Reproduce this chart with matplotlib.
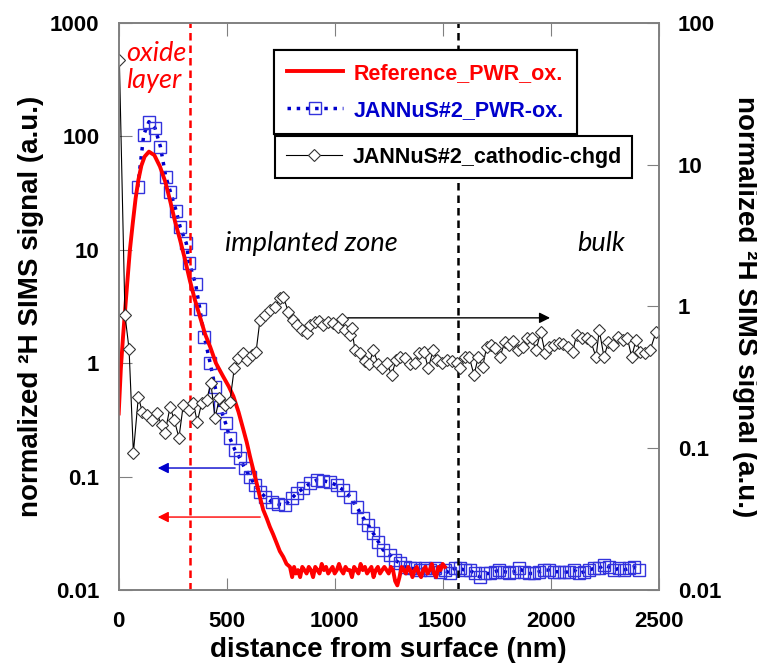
import matplotlib.pyplot as plt

plt.rcParams['font.family'] = ['Liberation Sans', 'DejaVu Sans']

# Reference_PWR_ox. (left axis)
ref_x = [0, 10, 20, 30, 40, 52, 65, 78, 91, 105, 120, 140, 165, 191, 215, 237, 260, 284, 305, 330,
         353, 376, 400, 423, 450, 484, 510, 531, 555, 577, 593, 608, 623, 639, 654, 669, 685, 700,
         715, 731, 746, 762, 777, 793,
         803, 812, 820, 830, 840, 850, 860, 870, 880, 890, 900, 910, 920, 930, 940, 950, 960, 970,
         980, 990, 1000, 1010, 1020, 1030, 1040, 1050, 1060, 1070, 1080, 1090, 1100, 1110, 1120,
         1130, 1140, 1150, 1160, 1170, 1180, 1190, 1200, 1210, 1220, 1230, 1240, 1250, 1260, 1270,
         1280, 1290, 1300, 1310, 1320, 1330, 1340, 1350, 1360, 1370, 1380, 1390, 1400, 1410, 1420,
         1430, 1440, 1450, 1460, 1470, 1480, 1490, 1500, 1510]
ref_y = [0.36, 0.9, 1.7, 3.0, 5.2, 10, 17, 28, 41, 55, 66, 73, 68, 54, 40, 27.5, 18, 12.2, 8.5, 5.3,
         3.6, 2.57, 1.8, 1.4, 1.0, 0.76, 0.62, 0.51, 0.37, 0.26, 0.2, 0.15, 0.115, 0.087, 0.066,
         0.051, 0.043, 0.036, 0.031, 0.026, 0.022, 0.0196, 0.017, 0.016,
         0.013, 0.016, 0.014, 0.015, 0.013, 0.016, 0.015, 0.014, 0.016, 0.015, 0.013, 0.016, 0.015,
         0.014, 0.017, 0.015, 0.016, 0.014, 0.015, 0.016, 0.014, 0.015, 0.017, 0.015, 0.014, 0.016,
         0.015, 0.015, 0.013, 0.016, 0.015, 0.014, 0.017, 0.015, 0.016, 0.014, 0.015, 0.016, 0.013,
         0.015, 0.016, 0.014, 0.015, 0.016, 0.015, 0.014, 0.016, 0.015, 0.012, 0.011, 0.013, 0.016,
         0.015, 0.014, 0.016, 0.015, 0.013, 0.015, 0.016, 0.014, 0.013, 0.015, 0.016, 0.014, 0.015,
         0.017, 0.014, 0.013, 0.016, 0.015, 0.017, 0.016]

# JANNuS#2_PWR-ox. (left axis)
pwr_x = [88, 116, 140, 168, 193, 218, 239, 267, 285, 313, 326, 356, 376, 397, 423, 446, 469, 495,
         515, 538, 561, 584, 608, 631, 654, 677, 708, 739, 770, 801, 824, 855, 886, 917, 947, 978,
         1009, 1040, 1071, 1102, 1133, 1156, 1179, 1202, 1225, 1256, 1279, 1302, 1326,
         1349, 1372, 1395, 1418, 1441, 1464, 1487, 1510, 1533, 1556, 1579, 1602, 1625, 1648, 1671,
         1694, 1717, 1740, 1763, 1786, 1809, 1832, 1855, 1878, 1901, 1924, 1947, 1970, 1993, 2016,
         2039, 2062, 2085, 2108, 2131, 2154, 2177, 2200, 2223, 2246, 2269, 2292, 2315, 2338, 2361,
         2384, 2407]
pwr_y = [35.6, 103, 134, 118, 81, 44, 32.5, 21.7, 15.7, 11.4, 7.7, 4.97, 2.99, 1.69, 1.01, 0.62,
         0.41, 0.295, 0.218, 0.172, 0.145, 0.118, 0.0998, 0.084, 0.0736, 0.0665, 0.060, 0.0573,
         0.0562, 0.0644, 0.0713, 0.079, 0.087, 0.093, 0.092, 0.089, 0.084, 0.076, 0.0665, 0.054,
         0.043, 0.0374, 0.0316, 0.0267, 0.0225, 0.0204, 0.0184, 0.0172, 0.016,
         0.0155, 0.0155, 0.015, 0.0155, 0.015, 0.0155, 0.0145, 0.015, 0.014, 0.0155, 0.0155, 0.015,
         0.015, 0.014, 0.0131, 0.014, 0.014, 0.0145, 0.015, 0.0145, 0.0142, 0.0145, 0.0155, 0.0145,
         0.014, 0.014, 0.0145, 0.015, 0.015, 0.0145, 0.0145, 0.0143, 0.0145, 0.015, 0.014, 0.0145,
         0.015, 0.0155, 0.0155, 0.0166, 0.016, 0.015, 0.0155, 0.015, 0.0155, 0.016, 0.015]

# JANNuS#2_cathodic-chgd (right axis)
cat_x = [3, 29, 48, 68, 91, 109, 130, 153, 176, 199, 214, 238, 257, 279, 299, 325, 345, 364, 384,
         407, 427, 446, 466, 492, 515, 535, 554, 574, 595, 616, 636, 654, 677, 700, 723, 746, 762,
         785, 805, 824, 847, 870, 886, 909, 929, 947, 971, 991, 1014, 1032, 1048, 1071, 1079, 1094,
         1117, 1140, 1159, 1179, 1202, 1220, 1241, 1264, 1284, 1302, 1326, 1349, 1372, 1392, 1414,
         1433, 1456, 1475, 1495, 1518, 1541, 1565, 1580, 1603, 1623, 1645, 1665, 1685, 1704, 1724,
         1742, 1765, 1788, 1808, 1827, 1850, 1870, 1889, 1912, 1932, 1954, 1974, 1994, 2015, 2040,
         2058, 2081, 2102, 2120, 2144, 2167, 2185, 2210, 2225, 2247, 2267, 2290, 2313, 2333, 2355,
         2375, 2395, 2413, 2437, 2460, 2488]
cat_y = [54.7, 0.87, 0.5, 0.093, 0.23, 0.181, 0.171, 0.158, 0.176, 0.146, 0.127, 0.196, 0.158,
         0.119, 0.202, 0.186, 0.207, 0.154, 0.207, 0.219, 0.287, 0.163, 0.225, 0.202, 0.213, 0.366,
         0.43, 0.467, 0.419, 0.454, 0.479, 0.80, 0.87, 0.94, 0.99, 1.14, 1.17, 0.92, 0.80, 0.74,
         0.68, 0.65, 0.74, 0.78, 0.79, 0.74, 0.78, 0.76, 0.71, 0.82, 0.68, 0.63, 0.70, 0.49, 0.47,
         0.41, 0.39, 0.49, 0.39, 0.366, 0.40, 0.328, 0.42, 0.44, 0.43, 0.39, 0.40, 0.467, 0.48,
         0.366, 0.49, 0.42, 0.40, 0.42, 0.41, 0.40, 0.366, 0.44, 0.44, 0.328, 0.44, 0.376, 0.52,
         0.53, 0.51, 0.44, 0.56, 0.53, 0.57, 0.49, 0.52, 0.60, 0.60, 0.49, 0.66, 0.47, 0.52, 0.53,
         0.55, 0.545, 0.52, 0.48, 0.63, 0.60, 0.60, 0.57, 0.44, 0.68, 0.44, 0.56, 0.53, 0.61, 0.58,
         0.60, 0.44, 0.58, 0.48, 0.467, 0.49, 0.66]

x_ticks = [0, 500, 1000, 1500, 2000, 2500]
left_ticks = [0.01, 0.1, 1, 10, 100, 1000]
left_labels = ['0.01', '0.1', '1', '10', '100', '1000']
right_ticks = [0.01, 0.1, 1, 10, 100]
right_labels = ['0.01', '0.1', '1', '10', '100']

oxide_edge = 330
bulk_edge = 1570

fig = plt.figure(figsize=(7.57, 6.63), dpi=100)
ax = fig.add_axes([0.1568, 0.110, 0.7133, 0.8558])
ax2 = ax.twinx()

blue = '#0000CC'
l_ref, = ax.plot(ref_x, ref_y, color='red', lw=2.8, label='Reference_PWR_ox.', zorder=3)
l_pwr, = ax.plot(pwr_x, pwr_y, color=blue, lw=2.5, ls=':', marker='s', ms=8.5,
                 mfc='none', mec='#3333DD', mew=1.0, label='JANNuS#2_PWR-ox.', zorder=2)
l_cat, = ax2.plot(cat_x, cat_y, color='black', lw=0.8, marker='D', ms=6.5, mfc='white',
                  mec='#333333', mew=0.8, label='JANNuS#2_cathodic-chgd')

ax.axvline(oxide_edge, color='red', ls=(0, (3, 2)), lw=1.8)
ax.axvline(bulk_edge, color='black', ls=(0, (3, 2)), lw=1.8)

ax.set_xlim(0, 2500)
ax.set_yscale('log')
ax.set_ylim(0.01, 1000)
ax2.set_yscale('log')
ax2.set_ylim(0.01, 100)

ax.set_xticks(x_ticks)
ax.set_xticklabels([str(t) for t in x_ticks], fontsize=16, fontweight='bold')
ax.set_yticks(left_ticks)
ax.set_yticklabels(left_labels, fontsize=16, fontweight='bold')
ax.minorticks_off()
ax2.set_yticks(right_ticks)
ax2.set_yticklabels(right_labels, fontsize=16, fontweight='bold')
ax2.minorticks_off()

ax.tick_params(direction='in', length=9, color='#808080', top=True)
ax.tick_params(axis='x', pad=15)
ax.tick_params(axis='y', pad=14)
ax2.tick_params(direction='in', length=9, color='#808080', pad=14)
for a in (ax, ax2):
    for s in a.spines.values():
        s.set_color('#808080')
        s.set_linewidth(1.2)

ax.set_xlabel('distance from surface (nm)', fontsize=20, fontweight='bold', labelpad=4)
ax.set_ylabel('normalized ²H SIMS signal (a.u.)', fontsize=20, fontweight='bold', labelpad=4)
ax2.set_ylabel('normalized ²H SIMS signal (a.u.)', fontsize=20, fontweight='bold',
               rotation=270, labelpad=26)

# arrows pointing to the axis each curve belongs to
ax.annotate('', xy=(168, 0.119), xytext=(552, 0.119),
            arrowprops=dict(arrowstyle='-|>', color=blue, lw=1.0, mutation_scale=16))
ax.annotate('', xy=(168, 0.044), xytext=(668, 0.044),
            arrowprops=dict(arrowstyle='-|>', color='red', lw=1.0, mutation_scale=16))
ax2.annotate('', xy=(2010, 0.83), xytext=(1048, 0.83),
             arrowprops=dict(arrowstyle='-|>', color='black', lw=1.0, mutation_scale=16))

ital = dict(family=['Lato', 'DejaVu Sans'], style='italic', fontsize=19.5)
ax.text(0.014, 0.968, 'oxide\nlayer', transform=ax.transAxes, color='red', ha='left',
        va='top', linespacing=1.1, **ital)
ax.text(0.197, 0.61, 'implanted zone', transform=ax.transAxes, ha='left', va='center', **ital)
ax.text(0.85, 0.61, 'bulk', transform=ax.transAxes, ha='left', va='center', **ital)

leg1 = ax.legend(handles=[l_ref, l_pwr], loc='upper left', bbox_to_anchor=(0.362, 0.925),
                 bbox_transform=fig.transFigure, prop=dict(size=15.5, weight='bold'),
                 fancybox=False, edgecolor='black', framealpha=1, handlelength=2.6,
                 labelspacing=0.75, borderpad=0.6, borderaxespad=0, handletextpad=0.5)
leg1.get_frame().set_linewidth(1.5)
leg1.texts[0].set_color('red')
leg1.texts[1].set_color(blue)
leg1.set_zorder(10)
ax.add_artist(leg1)

leg2 = ax2.legend(handles=[l_cat], loc='upper left', bbox_to_anchor=(0.363, 0.795),
                  bbox_transform=fig.transFigure, prop=dict(size=15.5, weight='bold'),
                  fancybox=False, edgecolor='black', framealpha=1, handlelength=2.6,
                  borderpad=0.5, borderaxespad=0, handletextpad=0.5)
leg2.get_frame().set_linewidth(1.5)
leg2.set_zorder(10)

fig.savefig('out.png', dpi=100)
